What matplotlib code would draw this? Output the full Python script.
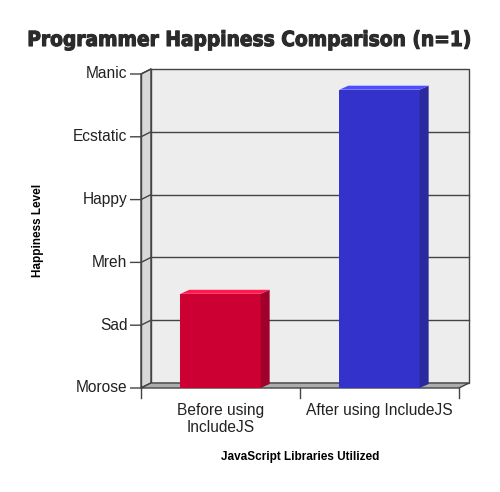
import matplotlib.pyplot as plt
from matplotlib.patches import Polygon, Rectangle
from matplotlib import font_manager
import matplotlib.patheffects as pe

categories = ['Before using\nIncludeJS', 'After using IncludeJS']
happiness = [1.5, 4.75]
levels = ['Morose', 'Sad', 'Mreh', 'Happy', 'Ecstatic', 'Manic']
front_colors = ['#cc0033', '#3333cc']
side_colors = ['#a0002a', '#2a2a9e']
top_colors = ['#ff1a4d', '#4d4dff']

fig = plt.figure(figsize=(5, 4.92), dpi=100)
ax = fig.add_axes([141 / 500, 1 - 388 / 492, 318 / 500, 314 / 492])
ax.set_xlim(0, 2)
ax.set_ylim(0, 5)
for s in ax.spines.values():
    s.set_visible(False)

# depth offsets in data units
dx = 10 / 318 * 2
dy = 5 / 314 * 5
bdx = 9 / 318 * 2
bdy = 4 / 314 * 5
edge = '#444444'
ymax = len(levels) - 1

# side wall
ax.add_patch(Polygon([(0, 0), (dx, dy), (dx, ymax + dy), (0, ymax)], closed=True,
                     facecolor='#d8d8d8', edgecolor=edge, lw=1, clip_on=False, zorder=1))
# back wall
ax.add_patch(Rectangle((dx, dy), 2, ymax, facecolor='#ededed', edgecolor=edge,
                       lw=1, clip_on=False, zorder=1))
# grid lines
for k in range(1, ymax):
    ax.plot([dx, 2 + dx], [k + dy, k + dy], color=edge, lw=1, clip_on=False, zorder=2)
for k in range(0, ymax + 1):
    ax.plot([-0.065, 0, dx], [k, k, k + dy], color=edge, lw=1, clip_on=False, zorder=2)
# floor
ax.add_patch(Polygon([(0, 0), (2, 0), (2 + dx, dy), (dx, dy)], closed=True,
                     facecolor='#acacac', edgecolor=edge, lw=1, clip_on=False, zorder=2))

# bars
width = 0.505
for i, v in enumerate(happiness):
    x0 = i + 0.5 - width / 2
    x1 = x0 + width
    ax.add_patch(Rectangle((x0, 0), width, v, facecolor=front_colors[i], lw=0,
                           clip_on=False, zorder=4))
    ax.add_patch(Polygon([(x1, 0), (x1 + bdx, bdy), (x1 + bdx, v + bdy), (x1, v)],
                         closed=True, facecolor=side_colors[i], lw=0, clip_on=False, zorder=4))
    ax.add_patch(Polygon([(x0, v), (x1, v), (x1 + bdx, v + bdy), (x0 + bdx, v + bdy)],
                         closed=True, facecolor=top_colors[i], lw=0, clip_on=False, zorder=4))

# axes lines
ax.plot([0, 0], [0, ymax], color=edge, lw=1, clip_on=False, zorder=3)
for k in range(3):
    ax.plot([k, k], [0, -0.16], color=edge, lw=1, clip_on=False, zorder=3)

ax.set_xticks([])
ax.set_yticks([])
font = ['Liberation Sans', 'DejaVu Sans']
for k, lab in enumerate(levels):
    ax.text(-0.085, k, lab, ha='right', va='center', fontsize=11.2, color='#222222',
            family=font)
for i, lab in enumerate(categories):
    ax.text(i + 0.5, -0.24, lab, ha='center', va='top', fontsize=11.2, color='#222222',
            family=font, linespacing=1.2)

fig.text(300 / 500, 1 - 457 / 492, 'JavaScript Libraries Utilized', ha='center', va='center',
         fontsize=8.5, fontweight='bold', family=font)
fig.text(38 / 500, 1 - 230 / 492, 'Happiness Level', ha='center', va='center',
         rotation=90, fontsize=8.5, fontweight='bold', family=font)

# title: condensed bold if available, otherwise shrink to fit width
fp = font_manager.FontProperties(family='DejaVu Sans', weight='bold', stretch='condensed')
path = font_manager.findfont(fp)
if 'Condensed' in path:
    title_font = dict(family='DejaVu Sans', fontstretch='condensed')
else:
    title_font = dict(family=['Roboto', 'DejaVu Sans'])
title = fig.text(250 / 500, 1 - 40 / 492, 'Programmer Happiness Comparison (n=1)',
                 ha='center', va='center', fontsize=22, fontweight='heavy',
                 color='#2b2b2b', **title_font)
title.set_path_effects([pe.withStroke(linewidth=0.8, foreground='#2b2b2b')])
fig.canvas.draw()
w = title.get_window_extent().width
if w > 442:
    title.set_fontsize(22 * 442 / w)

fig.savefig('out.png', dpi=100)
